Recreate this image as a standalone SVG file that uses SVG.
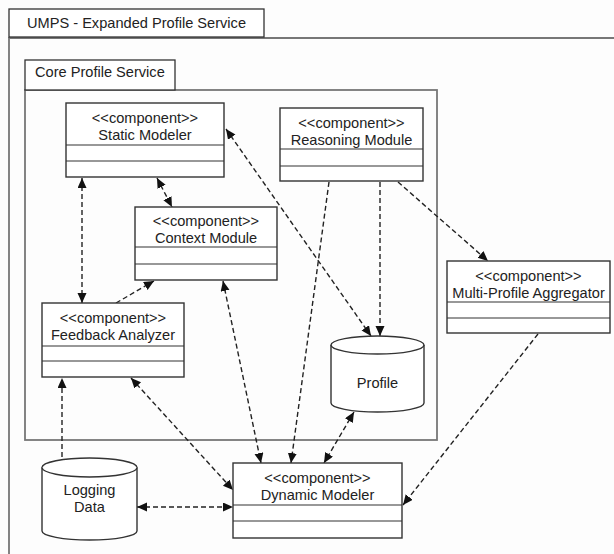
<svg xmlns="http://www.w3.org/2000/svg" width="614" height="554" viewBox="0 0 614 554">
  <style>
    text { font-family: "Liberation Sans", Arial, sans-serif; font-size: 14.6px; fill: #222; }
    .mid { text-anchor: middle; }
    .box { fill: #fff; stroke: #333; stroke-width: 1.4; }
    .sep { stroke: #333; stroke-width: 1.2; }
    .frame { fill: none; stroke: #777; stroke-width: 1.8; }
    .tab { fill: #fff; stroke: #333; stroke-width: 1.3; }
    .db { fill: #fff; stroke: #333; stroke-width: 1.4; }
    .link { fill: none; stroke: #222; stroke-width: 1.4; stroke-dasharray: 5 3; }
    .both { marker-start: url(#head); marker-end: url(#head); }
    .one { marker-end: url(#head); }
  </style>
  <defs>
    <marker id="head" markerUnits="userSpaceOnUse" markerWidth="11" markerHeight="10" refX="10" refY="4.5" orient="auto-start-reverse">
      <path d="M0,0 L10,4.5 L0,9 z" fill="#111"/>
    </marker>
  </defs>

  <rect width="614" height="554" fill="#fdfdfd"/>

  <!-- outer package: UMPS - Expanded Profile Service -->
  <g id="umps">
    <path class="frame" d="M9,556 L9,38 L616,38"/>
    <rect class="tab" x="9" y="9" width="255" height="28"/>
    <text x="27" y="28">UMPS - Expanded Profile Service</text>
  </g>

  <!-- inner package: Core Profile Service -->
  <g id="core">
    <rect class="frame" x="25" y="90" width="412" height="350"/>
    <rect class="tab" x="25" y="60" width="150" height="30"/>
    <text x="35" y="77">Core Profile Service</text>
  </g>

  <!-- connectors -->
  <g id="connectors">
    <path class="link both" d="M82,178 L82,303"/>
    <path class="link both" d="M157,178 L172,207"/>
    <path class="link one" d="M116,303 L154,281"/>
    <path class="link both" d="M226,129 L371,336"/>
    <path class="link one" d="M380,182 L380,336"/>
    <path class="link one" d="M329,182 L291,463"/>
    <path class="link one" d="M398,182 L488,261"/>
    <path class="link both" d="M223,281 L261,463"/>
    <path class="link both" d="M354,412 L324,463"/>
    <path class="link both" d="M131,378 L233,490"/>
    <path class="link one" d="M62,457 L62,378"/>
    <path class="link both" d="M137,507 L233,507"/>
    <path class="link one" d="M538,334 L403,505"/>
  </g>

  <!-- components -->
  <g id="static-modeler">
    <rect class="box" x="66" y="103" width="158" height="74"/>
    <line class="sep" x1="66" y1="145" x2="224" y2="145"/>
    <line class="sep" x1="66" y1="161" x2="224" y2="161"/>
    <text class="mid" x="145" y="123">&lt;&lt;component&gt;&gt;</text>
    <text class="mid" x="145" y="140">Static Modeler</text>
  </g>

  <g id="reasoning-module">
    <rect class="box" x="280" y="108" width="143" height="73"/>
    <line class="sep" x1="280" y1="149" x2="423" y2="149"/>
    <line class="sep" x1="280" y1="166" x2="423" y2="166"/>
    <text class="mid" x="351.5" y="128">&lt;&lt;component&gt;&gt;</text>
    <text class="mid" x="351.5" y="145">Reasoning Module</text>
  </g>

  <g id="context-module">
    <rect class="box" x="135" y="207" width="142" height="73"/>
    <line class="sep" x1="135" y1="247" x2="277" y2="247"/>
    <line class="sep" x1="135" y1="264" x2="277" y2="264"/>
    <text class="mid" x="206" y="226">&lt;&lt;component&gt;&gt;</text>
    <text class="mid" x="206" y="243">Context Module</text>
  </g>

  <g id="feedback-analyzer">
    <rect class="box" x="42" y="303" width="142" height="74"/>
    <line class="sep" x1="42" y1="346" x2="184" y2="346"/>
    <line class="sep" x1="42" y1="361" x2="184" y2="361"/>
    <text class="mid" x="113" y="323">&lt;&lt;component&gt;&gt;</text>
    <text class="mid" x="113" y="340">Feedback Analyzer</text>
  </g>

  <g id="multi-profile-aggregator">
    <rect class="box" x="447" y="261" width="163" height="72"/>
    <line class="sep" x1="447" y1="302" x2="610" y2="302"/>
    <line class="sep" x1="447" y1="318" x2="610" y2="318"/>
    <text class="mid" x="528.5" y="281">&lt;&lt;component&gt;&gt;</text>
    <text class="mid" x="528.5" y="298">Multi-Profile Aggregator</text>
  </g>

  <g id="dynamic-modeler">
    <rect class="box" x="233" y="463" width="169" height="75"/>
    <line class="sep" x1="233" y1="505" x2="402" y2="505"/>
    <line class="sep" x1="233" y1="521" x2="402" y2="521"/>
    <text class="mid" x="317.5" y="483">&lt;&lt;component&gt;&gt;</text>
    <text class="mid" x="317.5" y="500">Dynamic Modeler</text>
  </g>

  <!-- data stores -->
  <g id="profile">
    <path class="db" d="M331,345 L331,403 A46.5,9 0 0 0 424,403 L424,345 A46.5,9 0 0 0 331,345 Z"/>
    <path class="db" fill="none" d="M331,345 A46.5,9 0 0 0 424,345"/>
    <text class="mid" x="377.5" y="388">Profile</text>
  </g>

  <g id="logging-data">
    <path class="db" d="M42,467.5 L42,531 A47.5,9 0 0 0 137,531 L137,467.5 A47.5,9.5 0 0 0 42,467.5 Z"/>
    <path class="db" fill="none" d="M42,467.5 A47.5,9.5 0 0 0 137,467.5"/>
    <text class="mid" x="89.5" y="495">Logging</text>
    <text class="mid" x="89.5" y="512">Data</text>
  </g>
</svg>
